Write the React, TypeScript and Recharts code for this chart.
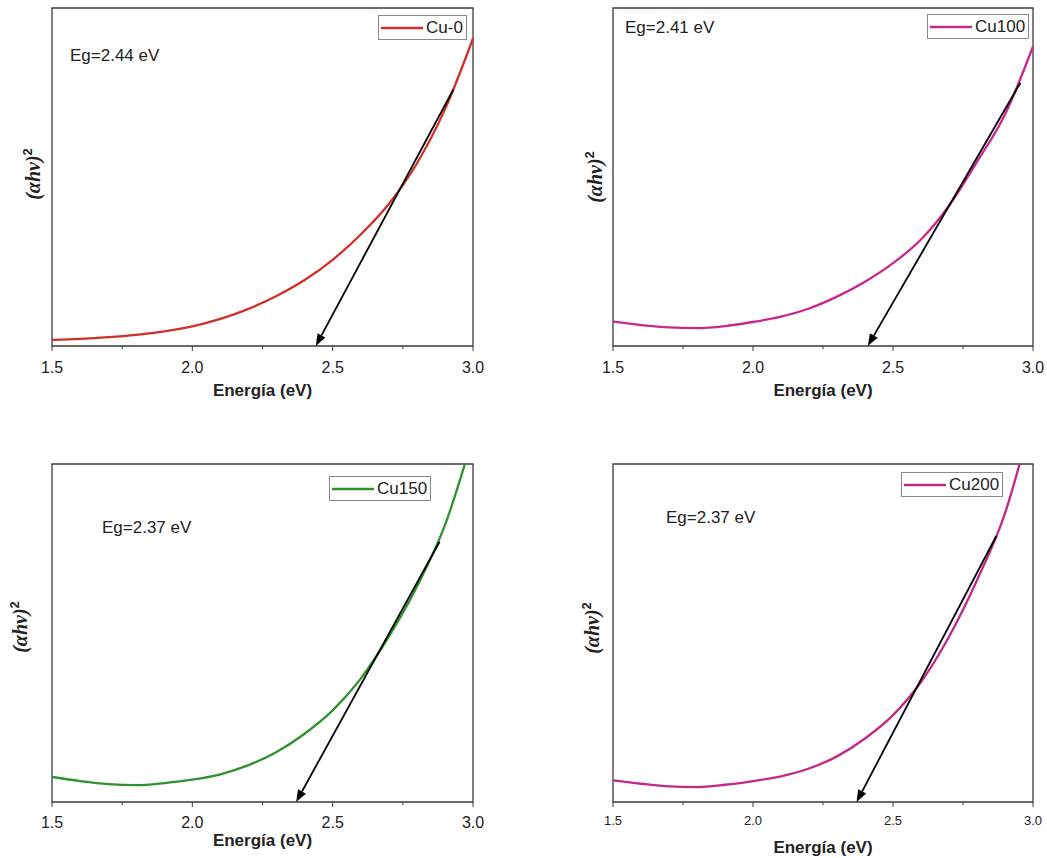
import React from 'react'
import { LineChart, Line, XAxis, YAxis, ReferenceLine, ReferenceArea, Legend, Label } from 'recharts'

// energy grid (eV) shared by all four samples
const ENERGY = [1.5, 1.6, 1.7, 1.8, 1.9, 2.0, 2.1, 2.2, 2.3, 2.4, 2.5, 2.6, 2.7, 2.8, 2.9, 3.0]

// (αhν)² in arbitrary units
const CU0 = [1.8, 2.1, 2.6, 3.3, 4.3, 5.8, 8.0, 11.0, 14.8, 19.5, 25.5, 33.0, 42.0, 54.0, 70.0, 91.0]
const CU100 = [7.2, 6.2, 5.5, 5.3, 5.9, 7.1, 8.7, 11.1, 14.6, 19.0, 24.5, 31.5, 41.5, 54.5, 68.5, 88.6]
const CU150 = [7.4, 6.2, 5.3, 5.0, 5.6, 6.6, 8.2, 10.9, 14.8, 20.2, 27.1, 36.5, 48.9, 63.7, 81.9, 108]
const CU200 = [6.4, 5.4, 4.6, 4.4, 5.1, 6.2, 7.6, 9.9, 13.5, 18.8, 25.7, 35.5, 48.9, 65.6, 85.4, 115]

// tangent lines (Tauc extrapolation) down to the band gap
const CU0_TANGENT = [{ x: 2.93, y: 75.9 }, { x: 2.44, y: 0 }]
const CU100_TANGENT = [{ x: 2.955, y: 77.9 }, { x: 2.41, y: 0 }]
const CU150_TANGENT = [{ x: 2.881, y: 77 }, { x: 2.37, y: 0 }]
const CU200_TANGENT = [{ x: 2.869, y: 78.7 }, { x: 2.37, y: 0 }]

const SAMPLE_NAMES = ['Cu-0', 'Cu100', 'Cu150', 'Cu200']
const EG_LABELS = ['Eg=2.44 eV', 'Eg=2.41 eV', 'Eg=2.37 eV', 'Eg=2.37 eV']

const X_TICKS = [1.5, 1.75, 2.0, 2.25, 2.5, 2.75, 3.0]
const MAJOR_TICKS = [1.5, 2.0, 2.5, 3.0]

const SANS = '"Liberation Sans", Arial, sans-serif'
const SERIF = '"Liberation Serif", "Times New Roman", serif'
const FRAME = '#3a3a3a'

const PANELS = [
  {
    values: CU0, tangent: CU0_TANGENT, color: '#d0302a',
    left: 0, top: 0, width: 520, height: 420, plot: { l: 52, t: 8, r: 473, b: 346 },
    eg: { x: 70, y: 61 }, legend: { left: 378, top: 15 }, yLabelX: 40, yLabelY: 174,
    tickFont: 16, tickDy: 27, xLabelDy: 50,
  },
  {
    values: CU100, tangent: CU100_TANGENT, color: '#c8288c',
    left: 560, top: 0, width: 487, height: 420, plot: { l: 53, t: 8, r: 473, b: 346 },
    eg: { x: 65, y: 33 }, legend: { left: 367, top: 14 }, yLabelX: 42, yLabelY: 177,
    tickFont: 16, tickDy: 27, xLabelDy: 50,
  },
  {
    values: CU150, tangent: CU150_TANGENT, color: '#2f912f',
    left: 0, top: 440, width: 520, height: 418, plot: { l: 52, t: 24, r: 473, b: 362 },
    eg: { x: 102, y: 93 }, legend: { left: 329, top: 36 }, yLabelX: 27, yLabelY: 187,
    tickFont: 16, tickDy: 26, xLabelDy: 44,
  },
  {
    values: CU200, tangent: CU200_TANGENT, color: '#c22887',
    left: 560, top: 440, width: 487, height: 418, plot: { l: 53, t: 24, r: 473, b: 362 },
    eg: { x: 106, y: 83 }, legend: { left: 341, top: 32 }, yLabelX: 39, yLabelY: 188,
    tickFont: 13, tickDy: 23, xLabelDy: 51,
  },
]

function Arrow(props: any) {
  const { x1, y1, x2, y2 } = props
  const ang = Math.atan2(y2 - y1, x2 - x1)
  const len = 12
  const half = 4.5
  const bx = x2 - len * Math.cos(ang)
  const by = y2 - len * Math.sin(ang)
  const px = -Math.sin(ang) * half
  const py = Math.cos(ang) * half
  return (
    <g>
      <line x1={x1} y1={y1} x2={bx} y2={by} stroke="#000" strokeWidth={1.8} />
      <polygon points={`${x2},${y2} ${bx + px},${by + py} ${bx - px},${by - py}`} fill="#000" />
    </g>
  )
}

function makeTick(fontSize: number, dy: number) {
  return (props: any) => {
    const { x, y, payload } = props
    const major = MAJOR_TICKS.includes(payload.value)
    return (
      <g>
        <line x1={x} y1={y} x2={x} y2={y + (major ? 5 : 3)} stroke={FRAME} strokeWidth={1} />
        {major && (
          <text x={x} y={y + dy} textAnchor="middle" fontSize={fontSize} fontFamily={SANS} fill="#222">
            {Number(payload.value).toFixed(1)}
          </text>
        )}
      </g>
    )
  }
}

function LegendBox({ payload }: any) {
  const item = payload?.[0]
  if (!item) return null
  return (
    <div
      style={{
        display: 'flex', alignItems: 'center', border: '1px solid #8a8a8a', background: '#fff',
        padding: '1px 3px 1px 2px', fontFamily: SANS, fontSize: 17, color: '#222', lineHeight: '21px',
      }}
    >
      <svg width={42} height={4} style={{ display: 'block' }}>
        <line x1={0} y1={2} x2={42} y2={2} stroke={item.color} strokeWidth={2.5} />
      </svg>
      <span style={{ marginLeft: 3 }}>{item.value}</span>
    </div>
  )
}

function TaucPanel({ idx }: { idx: number }) {
  const p = PANELS[idx]
  const data = ENERGY.map((e, i) => ({ e, v: p.values[i] }))
  const xAxisHeight = p.height - p.plot.b

  return (
    <div style={{ position: 'absolute', left: p.left, top: p.top }}>
      <LineChart
        width={p.width}
        height={p.height}
        data={data}
        margin={{ top: p.plot.t, right: p.width - p.plot.r, bottom: 0, left: 0 }}
      >
        <XAxis
          dataKey="e"
          type="number"
          domain={[1.5, 3.0]}
          ticks={X_TICKS}
          interval={0}
          tickSize={0}
          tickMargin={0}
          axisLine={false}
          tickLine={false}
          height={xAxisHeight}
          tick={makeTick(p.tickFont, p.tickDy)}
        >
          <Label
            content={({ viewBox }: any) => (
              <text
                x={viewBox.x + viewBox.width / 2}
                y={viewBox.y + p.xLabelDy}
                textAnchor="middle"
                fontFamily={SANS}
                fontWeight="bold"
                fontSize={17}
                fill="#222"
              >
                Energía (eV)
              </text>
            )}
          />
        </XAxis>
        <YAxis
          type="number"
          domain={[0, 100]}
          allowDataOverflow
          width={p.plot.l}
          tick={false}
          tickLine={false}
          axisLine={false}
        >
          <Label
            content={() => (
              <text
                x={p.yLabelX}
                y={p.yLabelY}
                transform={`rotate(-90 ${p.yLabelX} ${p.yLabelY})`}
                textAnchor="middle"
                fontFamily={SERIF}
                fontWeight="bold"
                fontSize={20}
                fill="#222"
              >
                <tspan fontStyle="italic">(αhν)</tspan>
                <tspan fontFamily={SANS} fontSize={13} dy={-8}>2</tspan>
              </text>
            )}
          />
        </YAxis>
        <Legend
          layout="horizontal"
          verticalAlign="middle"
          align="center"
          wrapperStyle={{ left: p.legend.left, top: p.legend.top, width: 'auto' }}
          content={<LegendBox />}
        />
        <Line
          type="monotone"
          dataKey="v"
          name={SAMPLE_NAMES[idx]}
          stroke={p.color}
          strokeWidth={2.3}
          dot={false}
          activeDot={false}
          isAnimationActive={false}
        />
        <ReferenceLine segment={p.tangent} shape={Arrow} />
        <ReferenceArea x1={1.5} x2={3.0} y1={0} y2={100} fill="none" stroke={FRAME} strokeWidth={1.3} />
        <text x={p.eg.x} y={p.eg.y} fontFamily={SANS} fontSize={17} fill="#222">
          {EG_LABELS[idx]}
        </text>
      </LineChart>
    </div>
  )
}

export default function App() {
  return (
    <div style={{ position: 'absolute', left: 0, top: 0, width: 1047, height: 858, background: '#fff' }}>
      {PANELS.map((_, i) => (
        <TaucPanel key={i} idx={i} />
      ))}
    </div>
  )
}
